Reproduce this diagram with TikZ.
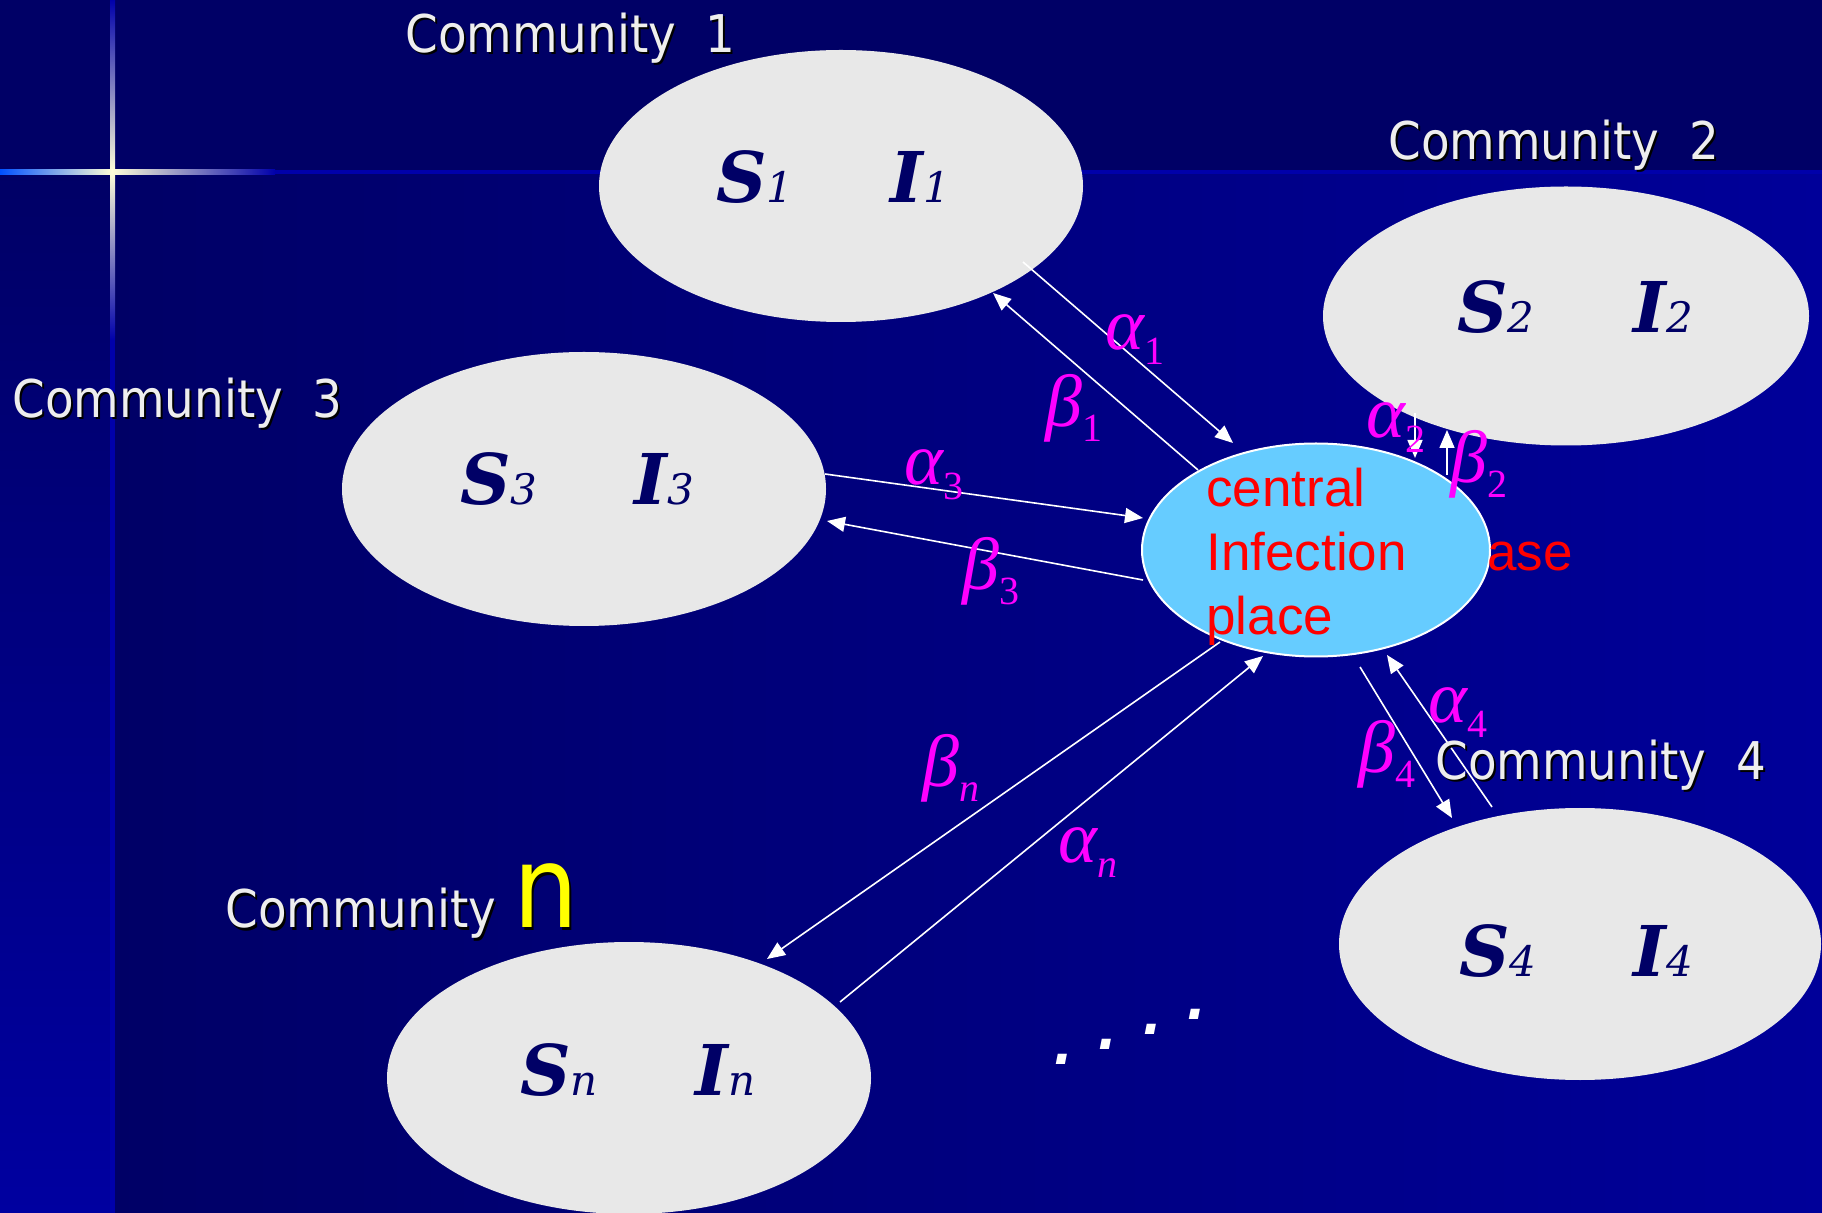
\documentclass[tikz,border=0pt]{standalone}
\usepackage{fontspec}
\setmainfont{Liberation Sans}
\newfontfamily\commfont[FakeStretch=0.9]{DejaVu Sans}
\newfontfamily\sifont{DejaVu Serif}
\newfontfamily\grfont{Liberation Serif}
\usetikzlibrary{shapes.geometric,arrows.meta}

\definecolor{bgdark}{HTML}{000066}
\definecolor{bgblue}{HTML}{000099}
\definecolor{stripbot}{HTML}{0000A0}
\definecolor{linebl}{HTML}{0000AA}
\definecolor{ellgray}{HTML}{E8E8E8}
\definecolor{cenblue}{HTML}{66CCFF}
\definecolor{sinavy}{HTML}{000066}
\definecolor{labgray}{HTML}{EEEEEE}
\definecolor{glow}{HTML}{0050FF}
\definecolor{glowc}{HTML}{FFFFD8}
\definecolor{mag}{HTML}{FF00FF}
\definecolor{yel}{HTML}{FFFF00}
\definecolor{redtxt}{HTML}{FF0000}

\newcommand\svar[2]{{\sifont\fontsize{35}{35}\selectfont\bfseries\itshape #1}{\sifont\fontsize{21}{21}\selectfont\itshape #2}}
\newcommand\grk[2]{{\grfont\fontsize{37}{37}\selectfont\itshape #1}\raisebox{-7.5pt}{\grfont\fontsize{20}{20}\selectfont #2}}
\newcommand\commlbl[3]{%
  \node[commtext, text=black, xshift=1pt, yshift=-1pt] at (#2) {#3};
  \node[commtext] (#1) at (#2) {#3};}

\tikzset{
  commell/.style={ellipse, fill=ellgray, inner sep=0pt},
  commtext/.style={font=\commfont\fontsize{26}{30}\selectfont, text=labgray, anchor=base west, inner sep=0pt},
  silbl/.style={anchor=base west, inner sep=0pt, text=sinavy},
  grlbl/.style={anchor=base west, inner sep=0pt, text=mag},
  conn/.style={draw=white, line width=0.8pt, -{Triangle[length=9pt,width=7.5pt]}},
}

\begin{document}
\begin{tikzpicture}[x=0.5pt,y=-0.5pt]
\useasboundingbox (0,0) rectangle (1822,1213);
% background
\fill[bgdark] (0,0) rectangle (1822,172);
\shade[left color=bgdark, right color=bgblue] (112,172) rectangle (1822,1213);
\shade[top color=bgdark, bottom color=stripbot] (0,172) rectangle (112,1213);
% cross glow
\shade[top color=linebl, middle color=glow, bottom color=glowc] (110,0) rectangle (115,172);
\shade[top color=glowc, middle color=glow, bottom color=linebl] (110,172) rectangle (115,340);
\fill[linebl] (110,340) rectangle (115,1213);
\shade[left color=glow, right color=glowc] (0,170) rectangle (112,175);
\shade[left color=glowc, middle color=glow, right color=linebl] (112,170) rectangle (275,175);
\fill[linebl] (275,170) rectangle (1822,174);

% community ellipses
\node[commell, minimum width=242pt, minimum height=136pt] (c1) at (841,186) {};
\node[commell, minimum width=243pt, minimum height=129.5pt] (c2) at (1566,316) {};
\node[commell, minimum width=242pt, minimum height=137pt] (c3) at (584,489) {};
\node[commell, minimum width=241pt, minimum height=136pt] (c4) at (1580,944) {};
\node[commell, minimum width=242pt, minimum height=136pt] (cn) at (629,1078) {};
% central place
\node[ellipse, fill=cenblue, draw=white, line width=1pt, minimum width=174pt, minimum height=106.5pt, inner sep=0pt] (cen) at (1316,550) {};

% arrow end points
\coordinate (a1s) at (1023,262); \coordinate (a1e) at (1233,443);
\coordinate (b1s) at (1198,470); \coordinate (b1e) at (993,293);
\coordinate (a3s) at (825,474);  \coordinate (a3e) at (1143,518);
\coordinate (b3s) at (1143,580); \coordinate (b3e) at (827,521);
\coordinate (a2s) at (1415,413); \coordinate (a2e) at (1415,458);
\coordinate (b2s) at (1447,475); \coordinate (b2e) at (1447,430);
\coordinate (a4s) at (1492,807); \coordinate (a4e) at (1387,655);
\coordinate (b4s) at (1360,667); \coordinate (b4e) at (1452,818);
\coordinate (bns) at (1220,642); \coordinate (bne) at (767,959);
\coordinate (ans) at (840,1002); \coordinate (ane) at (1263,656);

\draw[conn] (a1s) -- (a1e);
\draw[conn] (b1s) -- (b1e);
\draw[conn] (a3s) -- (a3e);
\draw[conn] (b3s) -- (b3e);
\draw[conn] (a2s) -- (a2e);
\draw[conn] (b2s) -- (b2e);
\draw[conn] (a4s) -- (a4e);
\draw[conn] (b4s) -- (b4e);
\draw[conn] (bns) -- (bne);
\draw[conn] (ans) -- (ane);

% S / I labels
\node[silbl] (s1) at (716,203) {\svar{S}{1}};
\node[silbl] (i1) at (890,203) {\svar{I}{1}};
\node[silbl] (s2) at (1457,333) {\svar{S}{2}};
\node[silbl] (i2) at (1633,333) {\svar{I}{2}};
\node[silbl] (s3) at (460,505) {\svar{S}{3}};
\node[silbl] (i3) at (634,505) {\svar{I}{3}};
\node[silbl] (s4) at (1459,976) {\svar{S}{4}};
\node[silbl] (i4) at (1633,976) {\svar{I}{4}};
\node[silbl] (sn) at (520,1095) {\svar{S}{n}};
\node[silbl] (in) at (695,1095) {\svar{I}{n}};

% community labels
\commlbl{l1}{405,53}{Community~~1}
\commlbl{l2}{1388,160}{Community~~2}
\commlbl{l3}{12,418}{Community~~3}
\commlbl{l4}{1435,780}{Community~~4}
\commlbl{ln}{225,928}{Community}
\node[anchor=base west, inner sep=0pt, font=\commfont\fontsize{57}{57}\selectfont, text=black, xshift=1.2pt, yshift=-1.2pt] at (513,928) {n};
\node[anchor=base west, inner sep=0pt, font=\commfont\fontsize{57}{57}\selectfont, text=yel] (nn) at (513,928) {n};

% central text
\node[anchor=base west, inner sep=0pt, text=redtxt, font=\fontsize{26.5}{32}\selectfont] (ctext) at (1206,507)
  {\begin{tabular}[t]{@{}l@{}}central\\Infection\\place\end{tabular}};
\node[anchor=base west, inner sep=0pt, text=redtxt, font=\fontsize{26.5}{32}\selectfont] (ase) at (1487,571) {ase};

% greek labels
\node[grlbl] (la1) at (1105,350) {\grk{α}{1}};
\node[grlbl] (lb1) at (1045,427) {\grk{β}{1}};
\node[grlbl] (la3) at (904,485) {\grk{α}{3}};
\node[grlbl] (lb3) at (962,590) {\grk{β}{3}};
\node[grlbl] (la2) at (1366,438) {\grk{α}{2}};
\node[grlbl] (lb2) at (1450,483) {\grk{β}{2}};
\node[grlbl] (la4) at (1428,723) {\grk{α}{4}};
\node[grlbl] (lb4) at (1358,773) {\grk{β}{4}};
\node[grlbl] (lbn) at (922,787) {\grk{β}{\itshape n}};
\node[grlbl] (lan) at (1058,863) {\grk{α}{\itshape n}};

% dots
\node[anchor=base west, inner sep=0pt, text=white, font=\fontsize{48}{48}\selectfont\itshape] (dots) at (1052,1064)
  {.\hspace{8.9pt}\raisebox{7.5pt}{.}\hspace{8.9pt}\raisebox{15pt}{.}\hspace{8.9pt}\raisebox{22.5pt}{.}};
\end{tikzpicture}
\end{document}
